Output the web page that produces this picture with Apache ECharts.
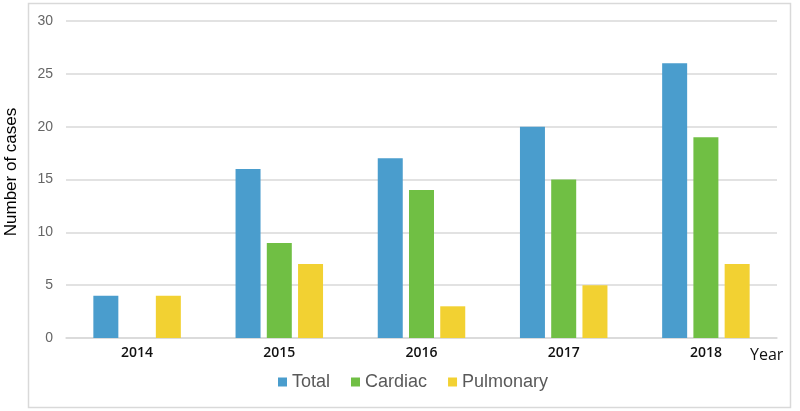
<!DOCTYPE html>
<html><head><meta charset="utf-8">
<script src="https://cdn.jsdelivr.net/npm/echarts@6/dist/echarts.min.js"></script>
<style>html,body{margin:0;padding:0;background:#fff}#c{width:800px;height:411px}</style>
</head><body><div id="c"></div>
<script>
const categories = ['2014','2015','2016','2017','2018'];
const totalValues = [4,16,17,20,26];
const cardiacValues = [0,9,14,15,19];
const pulmonaryValues = [4,7,3,5,7];
const yTicks = {min:0,max:30,interval:5};

const chart = echarts.init(document.getElementById('c'));
const barStyle = (c)=>({color:c});
chart.setOption({
  animation:false,
  graphic:[{type:'rect',shape:{x:28.5,y:3.5,width:762,height:404},style:{fill:'none',stroke:'#d9d9d9',lineWidth:1.5},silent:true}],
  grid:{left:66,right:23,top:21,bottom:73,outerBoundsMode:'none',containLabel:false},
  legend:{bottom:15,left:273,itemWidth:9,itemHeight:9,itemGap:21,icon:'rect',
    textStyle:{fontFamily:'Liberation Sans',fontSize:18,color:'#595959',padding:[0,0,0,0]},
    data:['Total','Cardiac','Pulmonary']},
  xAxis:{type:'category',data:categories,name:'Year',nameLocation:'end',nameGap:-27,
    nameTextStyle:{fontFamily:'Open Sans',fontSize:16,color:'#111',fontWeight:500,verticalAlign:'top',align:'left',padding:[9,0,0,0]},
    axisLine:{lineStyle:{color:'#d9d9d9',width:1.5}},axisTick:{show:false},
    axisLabel:{fontFamily:'Open Sans',fontSize:14,color:'#111',fontWeight:600,margin:8}},
  yAxis:{type:'value',min:yTicks.min,max:yTicks.max,interval:yTicks.interval,
    name:'Number of cases',nameLocation:'middle',nameGap:46,
    nameTextStyle:{fontFamily:'Liberation Sans',fontSize:17,color:'#000',padding:[0,0,0,15]},
    axisLine:{show:false},axisTick:{show:false},
    axisLabel:{fontFamily:'Liberation Sans',fontSize:14,color:'#666',margin:13},
    splitLine:{lineStyle:{color:'#d9d9d9',width:1.5}}},
  series:[
    {name:'Total',type:'bar',data:totalValues,barWidth:25,barGap:'25%',itemStyle:barStyle('#4a9dcd')},
    {name:'Cardiac',type:'bar',data:cardiacValues,barWidth:25,barGap:'25%',itemStyle:barStyle('#70bf44')},
    {name:'Pulmonary',type:'bar',data:pulmonaryValues,barWidth:25,barGap:'25%',itemStyle:barStyle('#f2d132')}
  ]
});
</script></body></html>
